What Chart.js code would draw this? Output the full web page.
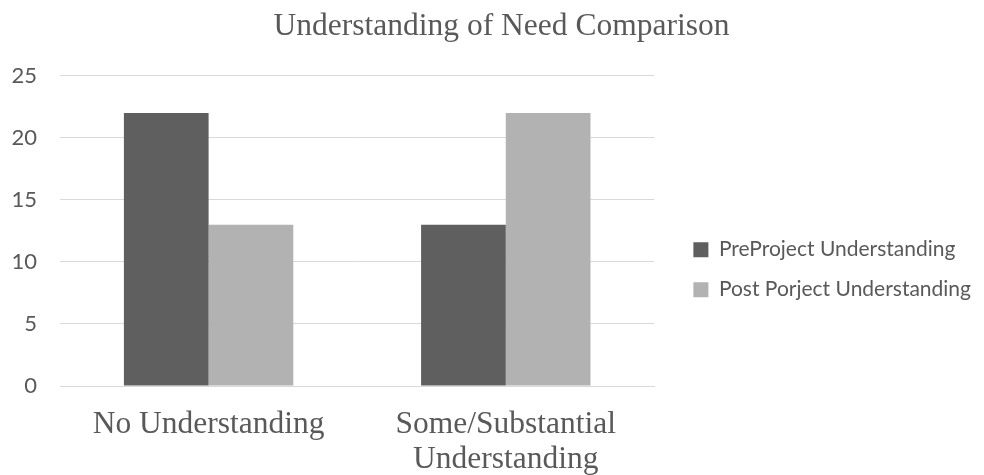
<!DOCTYPE html>
<html>
<head>
<meta charset="utf-8">
<script src="https://cdn.jsdelivr.net/npm/chart.js@4"></script>
<style>
  html, body { margin: 0; padding: 0; background: #ffffff; }
  #wrap { width: 984px; height: 475px; }
</style>
</head>
<body>
<div id="wrap"><canvas id="chart" width="984" height="475"></canvas></div>
<script>
// Survey results: how well participants understood the need, before and after the project
const chartTitle = 'Understanding of Need Comparison';
const categories = ['No Understanding', ['Some/Substantial', 'Understanding']];
const seriesNames = ['PreProject Understanding', 'Post Porject Understanding'];
const preProject = [22, 13];
const postProject = [13, 22];
const yMin = 0;
const yMax = 25;
const yStep = 5;

const TEXT = '#595959';
const GRID = '#d9d9d9';
const SANS = 'Lato';
const SERIF = 'Liberation Serif';

// Centre the title over the plot and legend together rather than the bare canvas
const titleNudge = {
  id: 'titleNudge',
  afterLayout(chart) {
    if (chart.titleBlock) chart.titleBlock.left += 22;
  }
};

new Chart(document.getElementById('chart'), {
  type: 'bar',
  data: {
    labels: categories,
    datasets: [
      { label: seriesNames[0], data: preProject, backgroundColor: '#5f5f5f', borderWidth: 0 },
      { label: seriesNames[1], data: postProject, backgroundColor: '#b2b2b2', borderWidth: 0 }
    ]
  },
  plugins: [titleNudge],
  options: {
    responsive: false,
    animation: false,
    devicePixelRatio: 1,
    categoryPercentage: 0.57,
    barPercentage: 1.0,
    layout: { padding: { left: 0, right: 3, top: 0, bottom: 0 } },
    plugins: {
      title: {
        display: true,
        text: chartTitle,
        color: TEXT,
        font: { family: SERIF, size: 31.5, weight: 'normal' },
        padding: { top: 8, bottom: 30 }
      },
      legend: {
        position: 'right',
        align: 'center',
        maxWidth: 420,
        title: { display: true, text: '', font: { size: 22, lineHeight: 1.2 }, padding: { top: 19, bottom: 19 } },
        labels: {
          color: TEXT,
          font: { family: SANS, size: 21 },
          boxWidth: 15,
          boxHeight: 15,
          padding: 19
        }
      },
      tooltip: { enabled: false }
    },
    scales: {
      x: {
        grid: { display: false, drawTicks: false },
        border: { display: true, color: GRID, width: 1 },
        ticks: {
          color: TEXT,
          padding: 21,
          maxRotation: 0,
          font: { family: SERIF, size: 31.5, lineHeight: 1.12 }
        },
        afterFit(scale) { scale.height = 89; }
      },
      y: {
        min: yMin,
        max: yMax,
        grid: { color: GRID, lineWidth: 1, drawTicks: false },
        border: { display: false },
        ticks: {
          stepSize: yStep,
          color: TEXT,
          padding: 23,
          font: { family: SANS, size: 22 }
        },
        afterFit(scale) { scale.width = 60; }
      },
      gap: {
        type: 'linear',
        position: 'right',
        display: true,
        grid: { display: false, drawTicks: false },
        border: { display: false },
        ticks: { display: false },
        afterFit(scale) { scale.width = 20; }
      }
    }
  }
});
</script>
</body>
</html>
